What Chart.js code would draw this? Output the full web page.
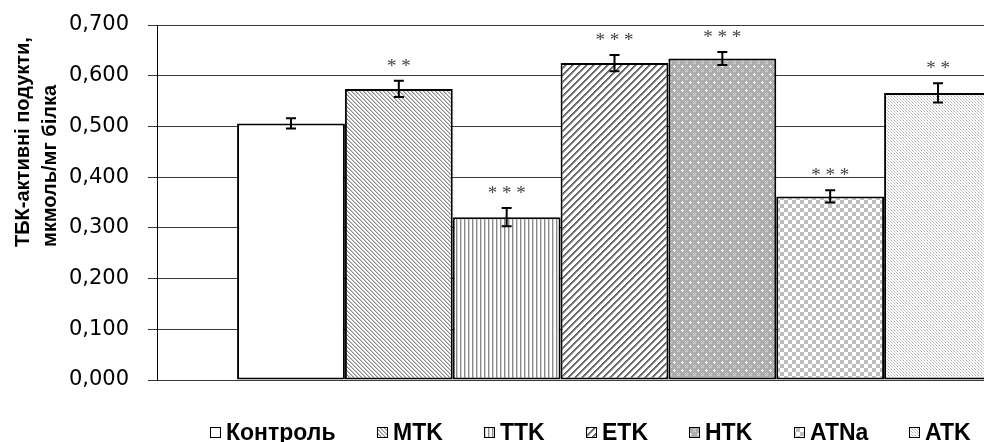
<!DOCTYPE html>
<html>
<head>
<meta charset="utf-8">
<script src="https://cdn.jsdelivr.net/npm/chart.js@4.4.0/dist/chart.umd.min.js"></script>
<style>
  html, body { margin: 0; padding: 0; background: #fff; }
  #wrap { width: 984px; height: 442px; overflow: hidden; position: relative; background: #fff; }
  canvas { display: block; }
</style>
</head>
<body>
<div id="wrap"><canvas id="c" width="1080" height="442"></canvas></div>
<script>
// ---- data ----
const categories = ['Контроль', 'MTK', 'TTK', 'ETK', 'HTK', 'ATNa', 'ATK'];
const values = [0.506, 0.574, 0.321, 0.625, 0.634, 0.362, 0.566];
const errors = [0.010, 0.016, 0.018, 0.016, 0.013, 0.012, 0.019];
const stars = ['', '**', '***', '***', '***', '***', '**'];
const yTicks = [0, 0.1, 0.2, 0.3, 0.4, 0.5, 0.6, 0.7];
const yTitle = ['ТБК-активні подукти,', 'мкмоль/мг білка'];

// ---- fill patterns ----
function makePattern(w, h, draw) {
  const c = document.createElement('canvas');
  c.width = w; c.height = h;
  const g = c.getContext('2d');
  draw(g, w, h);
  return g.createPattern(c, 'repeat');
}
function px(g, x, y, col) { g.fillStyle = col; g.fillRect(x, y, 1, 1); }
const ctx0 = document.getElementById('c').getContext('2d');
const patterns = [
  '#ffffff',
  makePattern(4, 4, (g) => { g.fillStyle = '#fff'; g.fillRect(0,0,4,4);
    for (let i = 0; i < 4; i++) { px(g, i, i, '#8c8c8c'); px(g, (i+1)%4, i, '#c4c4c4'); } }),
  makePattern(4, 1, (g) => { g.fillStyle = '#fff'; g.fillRect(0,0,4,1); px(g, 0, 0, '#8a8a8a'); px(g, 1, 0, '#d0d0d0'); }),
  makePattern(7, 7, (g) => { g.fillStyle = '#fff'; g.fillRect(0,0,7,7);
    for (let y = 0; y < 7; y++) { const x = 6 - y; px(g, x, y, '#606060'); px(g, (x+1)%7, y, '#707070'); px(g, (x+2)%7, y, '#a8a8a8'); } }),
  makePattern(8, 8, (g) => { g.fillStyle = '#adadad'; g.fillRect(0,0,8,8);
    [[2,1],[1,2],[2,2],[3,2],[2,3]].forEach(p => px(g, p[0], p[1], '#f0f0f0'));
    [[5,5],[7,5],[6,6],[5,7],[7,7]].forEach(p => px(g, p[0], p[1], '#d8d8d8')); }),
  makePattern(8, 8, (g) => { g.fillStyle = '#fff'; g.fillRect(0,0,8,8);
    g.fillStyle = '#bdbdbd'; g.fillRect(0,0,4,4); g.fillRect(4,4,4,4); }),
  makePattern(3, 3, (g) => { g.fillStyle = '#fff'; g.fillRect(0,0,3,3);
    px(g, 0, 0, '#a8a8a8'); px(g, 1, 1, '#d8d8d8'); px(g, 2, 2, '#c8c8c8'); }),
];

// ---- plugins ----
const errorBarPlugin = {
  id: 'errorBars',
  afterDatasetsDraw(chart) {
    const { ctx, scales: { y } } = chart;
    ctx.save();
    chart.data.datasets.forEach((ds, i) => {
      const bar = chart.getDatasetMeta(i).data[0];
      const v = values[i], e = errors[i];
      const yt = y.getPixelForValue(v + e), yb = y.getPixelForValue(v - e);
      ctx.strokeStyle = '#000'; ctx.lineWidth = 2;
      ctx.beginPath();
      ctx.moveTo(bar.x, yt); ctx.lineTo(bar.x, yb);
      ctx.moveTo(bar.x - 5, yt); ctx.lineTo(bar.x + 5, yt);
      ctx.moveTo(bar.x - 5, yb); ctx.lineTo(bar.x + 5, yb);
      ctx.stroke();
      if (stars[i]) {
        ctx.fillStyle = '#444';
        ctx.font = '19px "Liberation Serif"';
        ctx.textAlign = 'center'; ctx.textBaseline = 'middle';
        ctx.fillText(stars[i].split('').join(' '), bar.x, yt - 14);
      }
    });
    ctx.restore();
  }
};

const titleLegendPlugin = {
  id: 'titleLegend',
  afterDraw(chart) {
    const { ctx } = chart;
    ctx.save();
    // y-axis title
    ctx.fillStyle = '#000';
    ctx.font = 'bold 20px "Liberation Sans"';
    ctx.textAlign = 'left'; ctx.textBaseline = 'middle';
    [23, 50].forEach((x, k) => {
      ctx.save();
      ctx.translate(x, 247);
      ctx.rotate(-Math.PI / 2);
      ctx.fillText(yTitle[k], 0, 0);
      ctx.restore();
    });
    // legend
    ctx.font = 'bold 23px "Liberation Sans"';
    ctx.textBaseline = 'alphabetic';
    const box = 11, gap = 5, startX = 210, endX = 971;
    const widths = chart.data.datasets.map(ds => box + gap + ctx.measureText(ds.label).width);
    const sum = widths.reduce((a, b) => a + b, 0);
    const spacing = (endX - startX - sum) / (widths.length - 1);
    let x = startX;
    chart.data.datasets.forEach((ds, i) => {
      const bx = Math.round(x);
      ctx.fillStyle = ds.backgroundColor;
      ctx.fillRect(bx, 427, box, box);
      ctx.strokeStyle = '#000'; ctx.lineWidth = 1;
      ctx.strokeRect(bx + 0.5, 427.5, box - 1, box - 1);
      ctx.fillStyle = '#000';
      ctx.fillText(ds.label, bx + box + gap, 440);
      x += widths[i] + spacing;
    });
    ctx.restore();
  }
};

new Chart(ctx0, {
  type: 'bar',
  data: {
    labels: [''],
    datasets: categories.map((c, i) => ({
      label: c,
      data: [values[i]],
      backgroundColor: patterns[i],
      borderColor: '#000',
      borderWidth: 2,
      borderSkipped: false,
      categoryPercentage: 0.825,
      barPercentage: 1.0,
    }))
  },
  options: {
    responsive: false,
    animation: false,
    devicePixelRatio: 1,
    layout: { padding: { left: 0, right: 8, top: 25, bottom: 62 } },
    plugins: { legend: { display: false }, tooltip: { enabled: false } },
    scales: {
      x: { display: false },
      y: {
        min: 0, max: 0.7,
        afterBuildTicks(scale) { scale.ticks = yTicks.map(v => ({ value: v })); },
        afterFit(scale) { scale.width = 157; scale.paddingTop = 4; scale.paddingBottom = 4; },
        ticks: {
          font: { family: '"DejaVu Sans"', size: 21 },
          color: '#000',
          padding: 19,
          callback: (v) => Number(v).toFixed(3).replace('.', ',')
        },
        grid: { color: '#3a3a3a', lineWidth: 1, tickLength: 9, drawTicks: true },
        border: { color: '#000', width: 1 }
      }
    }
  },
  plugins: [errorBarPlugin, titleLegendPlugin]
});
</script>
</body>
</html>
